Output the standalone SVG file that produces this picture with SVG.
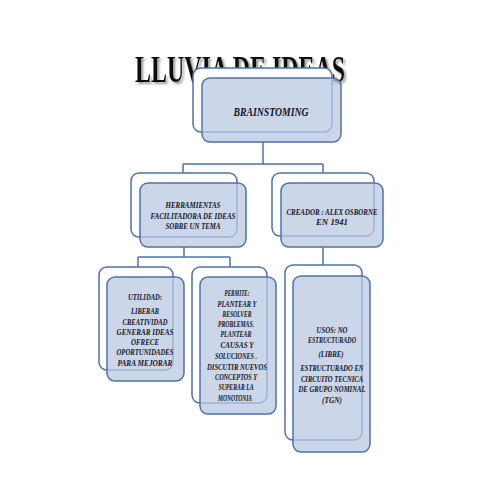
<svg xmlns="http://www.w3.org/2000/svg" width="480" height="480" viewBox="0 0 480 480">
<defs>
<filter id="tshadow" x="-5%" y="-20%" width="110%" height="140%">
<feDropShadow dx="2" dy="2" stdDeviation="0.8" flood-color="#8a8a8a" flood-opacity="0.9"/>
</filter>
</defs>
<style>
.back{fill:#ffffff;stroke:#4f72a8;stroke-width:1.5}
.front{fill:#b9c8e1;fill-opacity:0.75;stroke:#4f72a8;stroke-width:1.5}
.conn{fill:none;stroke:#4f72a8;stroke-width:1.5}
.t{font-family:"Liberation Serif","DejaVu Serif",serif;font-weight:bold;font-style:italic;font-size:9px;fill:#15151f;text-anchor:middle}
.title{font-family:"Liberation Serif","DejaVu Serif",serif;font-weight:bold;font-size:37px;fill:#111111}
</style>
<rect width="480" height="480" fill="#ffffff"/>
<g id="title">
<text class="title" x="135" y="82" textLength="210" lengthAdjust="spacingAndGlyphs" filter="url(#tshadow)">LLUVIA DE IDEAS</text>
</g>
<g id="connectors">
<path class="conn" d="M263,142 V164 M183,164 H323 M183,164 V173 M323,164 V173"/>
<path class="conn" d="M184,247 V257 M138,257 H230 M138,257 V267 M230,257 V267"/>
<path class="conn" d="M323,247 V265"/>
</g>
<g id="brainstoming">
<rect class="back" x="193" y="68" width="139" height="64" rx="8"/>
<rect class="front" x="202" y="78" width="139" height="64" rx="8"/>
<text class="t" x="271" y="116" textLength="75" lengthAdjust="spacingAndGlyphs" style="font-size:13px">BRAINSTOMING</text>
</g>
<g id="herramientas">
<rect class="back" x="131" y="173" width="106" height="64" rx="8"/>
<rect class="front" x="140" y="183" width="106" height="64" rx="8"/>
<text class="t" x="193" y="208" textLength="55" lengthAdjust="spacingAndGlyphs">HERRAMIENTAS</text>
<text class="t" x="193" y="219" textLength="85" lengthAdjust="spacingAndGlyphs">FACILITADORA DE IDEAS</text>
<text class="t" x="193" y="229" textLength="55" lengthAdjust="spacingAndGlyphs">SOBRE UN TEMA</text>
</g>
<g id="creador">
<rect class="back" x="272" y="173" width="102" height="63" rx="8"/>
<rect class="front" x="281" y="183" width="102" height="64" rx="8"/>
<text class="t" x="332" y="215" textLength="91" lengthAdjust="spacingAndGlyphs">CREADOR : ALEX OSBORNE</text>
<text class="t" x="332" y="225" textLength="32" lengthAdjust="spacingAndGlyphs">EN 1941</text>
</g>
<g id="utilidad">
<rect class="back" x="99" y="267" width="74" height="103" rx="8"/>
<rect class="front" x="107" y="277" width="77" height="104" rx="8"/>
<text class="t" x="145" y="300" textLength="34" lengthAdjust="spacingAndGlyphs">UTILIDAD:</text>
<text class="t" x="145" y="314" textLength="28" lengthAdjust="spacingAndGlyphs">LIBERAR</text>
<text class="t" x="145" y="325" textLength="45" lengthAdjust="spacingAndGlyphs">CREATIVIDAD</text>
<text class="t" x="145" y="335" textLength="57" lengthAdjust="spacingAndGlyphs">GENERAR  IDEAS</text>
<text class="t" x="145" y="345" textLength="28" lengthAdjust="spacingAndGlyphs">OFRECE</text>
<text class="t" x="145" y="355" textLength="57" lengthAdjust="spacingAndGlyphs">OPORTUNIDADES</text>
<text class="t" x="145" y="366" textLength="55" lengthAdjust="spacingAndGlyphs">PARA MEJORAR</text>
</g>
<g id="permite">
<rect class="back" x="192" y="267" width="75" height="136" rx="8"/>
<rect class="front" x="200" y="277" width="76" height="137" rx="8"/>
<text class="t" x="237" y="296" textLength="25" lengthAdjust="spacingAndGlyphs">PERMITE:</text>
<text class="t" x="237" y="307" textLength="39" lengthAdjust="spacingAndGlyphs">PLANTEAR Y</text>
<text class="t" x="237" y="317" textLength="29" lengthAdjust="spacingAndGlyphs">RESOLVER</text>
<text class="t" x="236" y="327" textLength="36" lengthAdjust="spacingAndGlyphs">PROBLEMAS.</text>
<text class="t" x="236" y="337" textLength="31" lengthAdjust="spacingAndGlyphs">PLANTEAR</text>
<text class="t" x="237" y="348" textLength="33" lengthAdjust="spacingAndGlyphs">CAUSAS  Y</text>
<text class="t" x="236" y="359" textLength="42" lengthAdjust="spacingAndGlyphs">SOLUCIONES .</text>
<text class="t" x="237" y="370" textLength="60" lengthAdjust="spacingAndGlyphs">DISCUTIR NUEVOS</text>
<text class="t" x="236" y="380" textLength="42" lengthAdjust="spacingAndGlyphs">CONCEPTOS Y</text>
<text class="t" x="236" y="390" textLength="35" lengthAdjust="spacingAndGlyphs">SUPERAR LA</text>
<text class="t" x="235" y="401" textLength="34" lengthAdjust="spacingAndGlyphs">MONOTONIA</text>
</g>
<g id="usos">
<rect class="back" x="285" y="265" width="77" height="175" rx="8"/>
<rect class="front" x="293" y="276" width="77" height="176" rx="8"/>
<text class="t" x="332" y="333" textLength="31" lengthAdjust="spacingAndGlyphs">USOS:  NO</text>
<text class="t" x="332" y="343" textLength="48" lengthAdjust="spacingAndGlyphs">ESTRUCTURADO</text>
<text class="t" x="331" y="357" textLength="25" lengthAdjust="spacingAndGlyphs">(LIBRE)</text>
<text class="t" x="332" y="371" textLength="63" lengthAdjust="spacingAndGlyphs">ESTRUCTURADO EN</text>
<text class="t" x="332" y="382" textLength="62" lengthAdjust="spacingAndGlyphs">CIRCUITO TECNICA</text>
<text class="t" x="332" y="392" textLength="67" lengthAdjust="spacingAndGlyphs">DE GRUPO NOMINAL</text>
<text class="t" x="332" y="403" textLength="20" lengthAdjust="spacingAndGlyphs">(TGN)</text>
</g>
</svg>
